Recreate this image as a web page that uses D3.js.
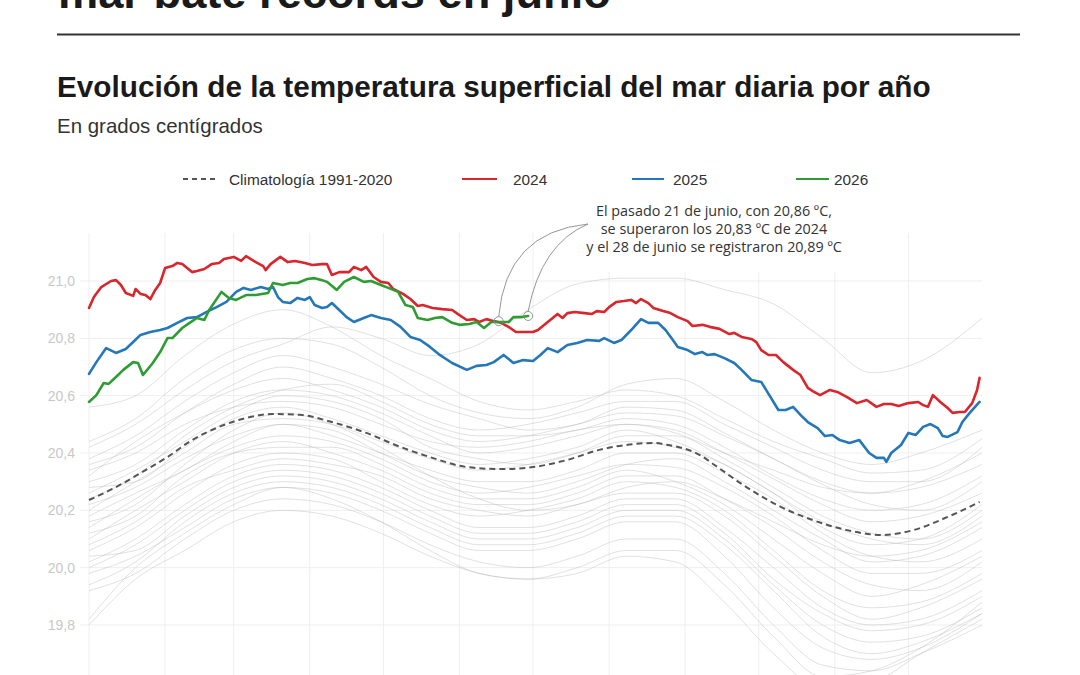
<!DOCTYPE html>
<html><head><meta charset="utf-8">
<script src="https://cdn.jsdelivr.net/npm/d3@7"></script>
<style>body{margin:0;background:#fff}svg{display:block}</style>
</head><body>
<svg id="c" width="1080" height="675"></svg>
<script>
// ---------- DATA ----------
const yTicks = [19.8, 20.0, 20.2, 20.4, 20.6, 20.8, 21.0];
const monthStarts = [1, 32, 60, 91, 121, 152, 182, 213, 244, 274, 305, 335];
const legendLabels = ["Climatología 1991-2020", "2024", "2025", "2026"];
const annotationLines = ["El pasado 21 de junio, con 20,86 ºC,", "se superaron los 20,83 ºC de 2024", "y el 28 de junio se registraron 20,89 ºC"];
const annotationDays = [168, 180];
const annotationVals = [20.860, 20.878];

const climDays = [1,12,22,33,43,54,65,76,87,100,114,128,141,155,169,182,196,209,223,231,237,250,256,269,283,296,310,324,337,351,364];
const climVals = [20.236,20.281,20.330,20.386,20.445,20.491,20.522,20.536,20.533,20.508,20.470,20.421,20.383,20.351,20.344,20.351,20.376,20.411,20.431,20.435,20.428,20.393,20.358,20.281,20.212,20.166,20.131,20.114,20.131,20.177,20.229];

const days2024 = [1,3,6,10,12,14,16,19,20,22,24,26,28,30,32,35,37,39,43,45,48,51,54,56,60,63,65,69,72,73,75,79,82,85,89,92,96,98,100,103,107,109,112,114,117,120,123,125,129,132,135,137,141,145,149,152,155,158,160,163,166,169,172,175,178,182,184,186,189,192,194,196,199,203,206,208,211,213,216,219,222,224,226,229,231,235,238,241,245,247,251,254,258,262,264,267,271,273,275,278,281,284,288,291,294,296,299,303,306,310,314,318,322,325,328,331,335,339,341,343,345,348,351,353,356,358,361,363,364];
const temp2024 = [20.906,20.944,20.979,21.000,21.003,20.986,20.958,20.948,20.972,20.955,20.951,20.937,20.969,20.993,21.045,21.052,21.063,21.059,21.031,21.035,21.042,21.059,21.063,21.077,21.084,21.070,21.087,21.066,21.052,21.038,21.059,21.084,21.066,21.070,21.063,21.056,21.059,21.059,21.021,21.031,21.031,21.049,21.038,21.049,21.014,20.997,20.993,20.972,20.955,20.937,20.913,20.916,20.906,20.902,20.899,20.881,20.864,20.867,20.857,20.867,20.860,20.854,20.840,20.822,20.822,20.822,20.829,20.843,20.864,20.885,20.871,20.888,20.892,20.888,20.885,20.895,20.892,20.909,20.927,20.930,20.934,20.923,20.937,20.923,20.906,20.895,20.888,20.874,20.860,20.843,20.847,20.840,20.833,20.815,20.819,20.805,20.798,20.787,20.759,20.742,20.742,20.717,20.690,20.672,20.627,20.616,20.602,20.620,20.613,20.595,20.574,20.585,20.561,20.571,20.571,20.564,20.574,20.578,20.567,20.561,20.602,20.578,20.557,20.540,20.543,20.543,20.574,20.620,20.662];

const days2025 = [1,4,8,12,16,19,22,26,30,33,37,41,45,49,53,57,61,64,67,71,74,76,78,80,83,86,89,91,93,96,98,100,103,106,109,113,116,120,124,128,132,136,140,144,149,155,159,163,166,170,174,178,182,185,188,192,196,200,204,209,211,215,218,222,226,229,233,236,239,241,245,248,251,253,256,260,264,267,271,275,277,282,285,288,291,294,298,301,304,307,311,315,319,322,325,326,328,332,335,338,341,344,347,349,351,355,357,360,364];
const temp2025 = [20.676,20.717,20.766,20.749,20.763,20.787,20.812,20.822,20.829,20.836,20.854,20.871,20.874,20.892,20.909,20.927,20.962,20.976,20.969,20.979,20.972,20.979,20.944,20.927,20.923,20.941,20.934,20.944,20.916,20.906,20.909,20.923,20.899,20.874,20.857,20.871,20.881,20.871,20.864,20.840,20.805,20.794,20.770,20.742,20.714,20.690,20.704,20.707,20.717,20.742,20.714,20.724,20.721,20.742,20.766,20.752,20.777,20.784,20.794,20.791,20.801,20.784,20.794,20.829,20.867,20.854,20.854,20.829,20.794,20.770,20.759,20.745,20.752,20.742,20.745,20.731,20.714,20.690,20.655,20.648,20.620,20.550,20.550,20.561,20.533,20.508,20.487,20.459,20.463,20.445,20.435,20.445,20.400,20.383,20.383,20.369,20.400,20.428,20.470,20.463,20.491,20.501,20.487,20.459,20.456,20.473,20.508,20.540,20.578];

const days2026 = [1,4,7,9,12,15,19,21,23,27,30,33,35,39,42,45,48,50,55,58,61,65,69,74,76,80,83,86,90,93,96,98,102,105,109,113,116,120,123,127,130,133,135,139,142,145,149,152,156,159,162,165,169,172,174,177,180];
const temp2026 = [20.578,20.602,20.644,20.641,20.665,20.690,20.717,20.714,20.672,20.714,20.752,20.801,20.801,20.836,20.854,20.871,20.864,20.899,20.962,20.941,20.934,20.951,20.951,20.958,20.993,20.986,20.993,20.993,21.007,21.010,21.003,20.997,20.969,20.997,21.014,20.997,21.000,20.986,20.976,20.962,20.916,20.909,20.871,20.864,20.871,20.874,20.854,20.847,20.850,20.857,20.836,20.857,20.857,20.857,20.874,20.874,20.878];

const greyDays = [1,20,40,60,80,100,120,140,160,180,200,220,240,260,280,300,320,340,365];
const greyYears = [
  [20.56,20.60,20.74,20.85,20.90,20.84,20.74,20.66,20.58,20.55,20.58,20.62,20.60,20.52,20.44,20.38,20.33,20.34,20.45],
  [20.44,20.52,20.66,20.76,20.80,20.78,20.70,20.60,20.54,20.52,20.56,20.64,20.66,20.58,20.48,20.40,20.36,20.40,20.48],
  [20.38,20.46,20.58,20.68,20.74,20.70,20.64,20.57,20.52,20.48,20.50,20.56,20.55,20.47,20.38,20.30,20.26,20.28,20.36],
  [20.32,20.44,20.54,20.62,20.66,20.62,20.56,20.48,20.44,20.46,20.50,20.54,20.53,20.46,20.38,20.29,20.22,20.20,20.30],
  [20.30,20.36,20.48,20.58,20.62,20.60,20.54,20.46,20.40,20.42,20.46,20.50,20.48,20.40,20.31,20.22,20.16,20.18,20.26],
  [20.26,20.34,20.44,20.54,20.60,20.58,20.52,20.42,20.38,20.36,20.40,20.46,20.46,20.38,20.28,20.18,20.12,20.10,20.20],
  [20.20,20.30,20.40,20.50,20.52,20.50,20.44,20.38,20.34,20.36,20.40,20.44,20.42,20.36,20.26,20.16,20.10,20.08,20.18],
  [20.22,20.28,20.38,20.46,20.50,20.46,20.40,20.34,20.30,20.30,20.34,20.40,20.40,20.33,20.24,20.12,20.04,20.02,20.10],
  [20.14,20.24,20.34,20.42,20.46,20.44,20.38,20.30,20.26,20.28,20.32,20.36,20.35,20.28,20.18,20.06,19.98,19.98,20.06],
  [20.10,20.20,20.30,20.40,20.44,20.40,20.34,20.26,20.22,20.22,20.26,20.32,20.32,20.24,20.14,20.02,19.94,19.92,20.02],
  [20.06,20.14,20.26,20.36,20.40,20.38,20.30,20.22,20.18,20.20,20.24,20.30,20.28,20.20,20.06,19.92,19.86,19.88,19.98],
  [20.02,20.10,20.22,20.32,20.36,20.34,20.28,20.20,20.14,20.14,20.18,20.24,20.24,20.14,20.00,19.86,19.80,19.82,19.92],
  [20.04,20.06,20.18,20.28,20.32,20.30,20.24,20.16,20.10,20.10,20.14,20.20,20.20,20.10,19.94,19.80,19.74,19.76,19.86],
  [19.98,20.04,20.14,20.24,20.28,20.26,20.20,20.12,20.06,20.06,20.10,20.16,20.16,20.04,19.86,19.72,19.68,19.72,19.84],
  [19.92,19.98,20.10,20.20,20.24,20.22,20.16,20.08,20.02,20.00,20.04,20.10,20.10,19.98,19.80,19.66,19.64,19.70,19.80],
  [19.80,19.96,20.06,20.16,20.20,20.18,20.12,20.04,19.98,19.96,20.00,20.06,20.06,19.94,19.76,19.62,19.64,19.72,19.88],
  [20.34,20.40,20.50,20.56,20.58,20.56,20.50,20.44,20.42,20.44,20.48,20.50,20.47,20.40,20.34,20.28,20.26,20.30,20.40],
  [20.16,20.22,20.36,20.48,20.54,20.50,20.42,20.32,20.24,20.20,20.22,20.28,20.30,20.24,20.16,20.08,20.04,20.06,20.16],
  [20.42,20.50,20.62,20.72,20.78,20.84,20.80,20.74,20.78,20.90,20.99,21.01,21.01,20.97,20.92,20.80,20.68,20.72,20.87],
  [19.82,20.00,20.12,20.22,20.28,20.24,20.16,20.06,19.98,19.96,19.98,20.04,20.02,19.88,19.70,19.58,19.60,19.70,19.82],
  [20.28,20.30,20.42,20.52,20.56,20.52,20.46,20.40,20.36,20.38,20.42,20.48,20.44,20.36,20.26,20.14,20.08,20.10,20.22],
  [20.18,20.26,20.34,20.44,20.50,20.48,20.40,20.32,20.28,20.26,20.30,20.36,20.38,20.30,20.20,20.10,20.02,20.04,20.14],
  [20.12,20.18,20.32,20.40,20.42,20.42,20.36,20.28,20.24,20.24,20.28,20.34,20.30,20.22,20.10,19.98,19.90,19.94,20.04],
  [20.08,20.16,20.28,20.34,20.38,20.36,20.32,20.24,20.20,20.18,20.22,20.26,20.26,20.18,20.04,19.90,19.82,19.86,19.96],
  [20.24,20.32,20.46,20.56,20.62,20.64,20.58,20.50,20.46,20.46,20.48,20.52,20.50,20.42,20.32,20.24,20.20,20.22,20.32],
  [20.00,20.08,20.20,20.30,20.34,20.32,20.26,20.18,20.12,20.12,20.16,20.22,20.22,20.12,19.96,19.84,19.78,19.80,19.90],
  [20.36,20.42,20.54,20.64,20.70,20.66,20.60,20.52,20.48,20.50,20.54,20.58,20.58,20.50,20.42,20.34,20.30,20.30,20.42],
  [19.94,20.02,20.16,20.26,20.30,20.28,20.22,20.14,20.08,20.08,20.12,20.18,20.18,20.08,19.92,19.76,19.70,19.74,19.84]
];

// ---------- CHART ----------
const svg = d3.select('#c');
const x = d3.scaleLinear().domain([1, 365]).range([89, 982]);
const y = d3.scaleLinear().domain([19.8, 21.0]).range([625, 281]);
const fmt = d3.formatLocale({decimal: ",", thousands: ".", grouping: [3], currency: ["", "€"]}).format(".1f");
const SANS = "'Liberation Sans', Arial, Helvetica, sans-serif";

function fit(sel, w) {
  const l = sel.node().getComputedTextLength();
  const fs = parseFloat(sel.attr('font-size'));
  sel.attr('font-size', (fs * w / l).toFixed(2));
}

// Header
fit(svg.append('text').attr('x', 58).attr('y', 8).attr('font-family', SANS).attr('font-weight', 700)
  .attr('font-size', 45).attr('fill', '#1a1a1a').text('mar bate récords en junio'), 553);
svg.append('line').attr('x1', 57).attr('x2', 1020).attr('y1', 34.5).attr('y2', 34.5)
  .attr('stroke', '#333').attr('stroke-width', 2);
fit(svg.append('text').attr('x', 57).attr('y', 97).attr('font-family', SANS).attr('font-weight', 700)
  .attr('font-size', 28).attr('fill', '#1a1a1a').text('Evolución de la temperatura superficial del mar diaria por año'), 874);
fit(svg.append('text').attr('x', 57).attr('y', 133).attr('font-family', SANS)
  .attr('font-size', 18).attr('fill', '#333').text('En grados centígrados'), 206);

// Legend
const lg = svg.append('g').attr('font-family', SANS).attr('font-size', 15.4).attr('fill', '#333');
const legendItems = [
  {x1: 183, x2: 215, tx: 229, color: '#555', dash: '5,4', label: legendLabels[0]},
  {x1: 462, x2: 497, tx: 513, color: '#d9262c', dash: null, label: legendLabels[1]},
  {x1: 632, x2: 664, tx: 673, color: '#2477b8', dash: null, label: legendLabels[2]},
  {x1: 796, x2: 829, tx: 834, color: '#2e9c33', dash: null, label: legendLabels[3]}
];
legendItems.forEach(d => {
  lg.append('line').attr('x1', d.x1).attr('x2', d.x2).attr('y1', 179).attr('y2', 179)
    .attr('stroke', d.color).attr('stroke-width', 2).attr('stroke-dasharray', d.dash);
  lg.append('text').attr('x', d.tx).attr('y', 184.5).text(d.label);
});

// Grid
const grid = svg.append('g');
grid.selectAll('line.h').data(yTicks).join('line').attr('class', 'h')
  .attr('x1', 80).attr('x2', 982).attr('y1', d => y(d)).attr('y2', d => y(d))
  .attr('stroke', '#efefef').attr('stroke-width', 1);
grid.selectAll('line.v').data(monthStarts).join('line').attr('class', 'v')
  .attr('x1', d => x(d)).attr('x2', d => x(d)).attr('y1', 233).attr('y2', 690)
  .attr('stroke', '#efefef').attr('stroke-width', 1);
svg.append('g').selectAll('text').data(yTicks).join('text')
  .attr('x', 75).attr('y', d => y(d) + 5).attr('text-anchor', 'end')
  .attr('font-family', SANS).attr('font-size', 14).attr('fill', '#c8c8c8').text(d => fmt(d));

// Annotation background (masks gridlines under the note)
svg.append('rect').attr('x', 586).attr('y', 198).attr('width', 256).attr('height', 74).attr('fill', '#fff');

// Lines
const smooth = d3.line().x(d => x(d[0])).y(d => y(d[1])).curve(d3.curveMonotoneX);
const greyG = svg.append('g');
greyYears.forEach(vals => {
  greyG.append('path').datum(d3.zip(greyDays, vals)).attr('d', smooth)
    .attr('fill', 'none').attr('stroke', '#b0b0b0').attr('stroke-opacity', 0.38).attr('stroke-width', 1);
});
svg.append('path').datum(d3.zip(climDays, climVals)).attr('d', smooth)
  .attr('fill', 'none').attr('stroke', '#555').attr('stroke-width', 2).attr('stroke-dasharray', '6,4');

const lin = d3.line().x(d => x(d[0])).y(d => y(d[1])).curve(d3.curveLinear);
[[days2024, temp2024, '#d9262c'], [days2025, temp2025, '#2477b8'], [days2026, temp2026, '#2e9c33']].forEach(([ds, vs, c]) => {
  svg.append('path').datum(d3.zip(ds, vs)).attr('d', lin)
    .attr('fill', 'none').attr('stroke', c).attr('stroke-width', 2.6)
    .attr('stroke-linejoin', 'round').attr('stroke-linecap', 'round');
});

// Annotation text
const at = svg.append('g').attr('font-family', "'Open Sans', 'Noto Sans', sans-serif").attr('fill', '#333').attr('text-anchor', 'middle');
annotationLines.forEach((t, i) => {
  const s = at.append('text').attr('x', 714).attr('y', 216 + i * 18).attr('font-size', 13).text(t);
  if (i === 0) fit(s, 236);
});
const fs0 = at.select('text').attr('font-size');
at.selectAll('text').attr('font-size', fs0);

// Leaders and circles
const sx = 588, sy = 224;
const pts = annotationDays.map((d, i) => [x(d), y(annotationVals[i])]);
const ctrl = [[506, 232], [541, 244]];
pts.forEach((p, i) => {
  svg.append('path')
    .attr('d', `M${sx},${sy} Q${ctrl[i][0]},${ctrl[i][1]} ${p[0]},${p[1] - 4.5}`)
    .attr('fill', 'none').attr('stroke', '#8a8a8a').attr('stroke-width', 0.9);
  svg.append('circle').attr('cx', p[0]).attr('cy', p[1]).attr('r', 4.5)
    .attr('fill', 'none').attr('stroke', '#8a8a8a').attr('stroke-width', 0.9);
});
</script>
</body></html>
